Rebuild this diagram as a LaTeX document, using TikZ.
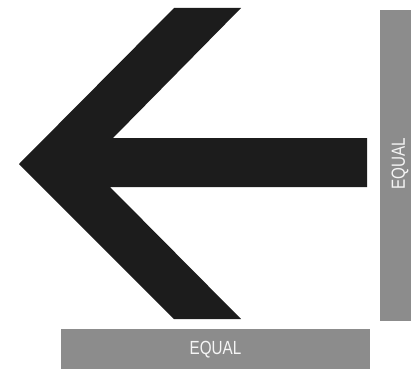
\documentclass[tikz,border=0pt]{standalone}
\usepackage{fontspec}
\setmainfont{Liberation Sans}
\definecolor{bargray}{HTML}{8C8C8C}
\definecolor{arrowblack}{HTML}{1C1C1C}
\tikzset{
  bar/.style={fill=bargray, draw=none, inner sep=0pt},
  bartext/.style={text=white!92!gray, inner sep=0pt,
              font=\fontsize{19}{19}\selectfont},
}
\begin{document}
\begin{tikzpicture}[x=1pt,y=-1pt]
\useasboundingbox (0,0) rectangle (411,369);
\fill[white] (0,0) rectangle (411,369);
% big arrow
\fill[arrowblack] (19,164) -- (174,8) -- (241,8) -- (113,138) -- (367,138)
  -- (367,187) -- (110,187) -- (241,319) -- (174,319) -- cycle;
% bars
\node[bar, minimum width=31pt, minimum height=311pt] (vbar) at (395.5,165.5) {};
\node[bar, minimum width=309pt, minimum height=40pt] (hbar) at (215.5,349) {};
\node[bartext, rotate=90] (vtxt) at (400,164) {\scalebox{0.8}[1]{EQUAL}};
\node[bartext] (htxt) at (215.5,350) {\scalebox{0.8}[1]{EQUAL}};
\end{tikzpicture}
\end{document}
